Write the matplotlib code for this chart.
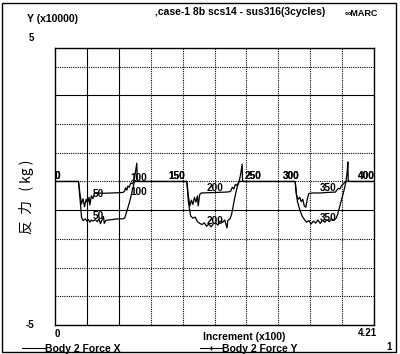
import numpy as np
import matplotlib.pyplot as plt
from matplotlib.lines import Line2D
from matplotlib.patches import Rectangle

# Body 2 force, increment vs force (x10000 kg)
inc_x = [0, 31, 33, 35, 37, 39, 41, 43, 45, 46, 48, 50, 52, 55, 65, 75, 85, 90, 92, 93,
         95, 96, 98, 100, 102, 104, 106, 108, 108.5, 110,
         174, 176, 178, 180, 182, 184, 186, 188, 189, 191, 193, 205, 215, 225, 230, 232,
         234, 236, 238, 240, 243, 245, 247, 247.5, 249,
         317, 319, 321, 323, 325, 327, 329, 331, 333, 335, 340, 350, 360, 370, 372, 374,
         376, 378, 380, 382, 384, 385.5, 386.5, 387, 389, 421]
force_x = [0, 0, -0.45, -0.78, -0.6, -0.88, -0.62, -0.75, -0.55, -0.82, -0.5, -0.6, -0.42,
           -0.4, -0.41, -0.4, -0.39, -0.38, -0.33, -0.22, -0.3, -0.16, -0.2, -0.05, -0.08,
           0.0, 0.3, 0.64, 0.03, 0.0,
           0, -0.5, -0.85, -0.65, -0.8, -0.55, -0.72, -0.5, -0.85, -0.45, -0.4, -0.39,
           -0.38, -0.37, -0.36, -0.33, -0.2, -0.26, -0.1, -0.14, 0.0, 0.25, 0.6, 0.03, 0,
           0, -0.5, -0.62, -0.55, -0.7, -0.62, -0.85, -0.9, -0.6, -0.42, -0.4, -0.4, -0.38,
           -0.37, -0.3, -0.24, -0.26, -0.15, -0.1, -0.04, 0.0, 0.3, 0.68, 0.03, 0, 0]

inc_y = [0, 31, 33, 35, 37, 40, 42, 44, 46, 48, 50, 53, 56, 58, 60, 62, 64, 65, 67, 70,
         75, 80, 85, 90, 92, 95, 98, 100, 103, 105,
         174, 176, 179, 182, 185, 188, 191, 194, 197, 200, 203, 206, 209, 212, 215, 218,
         221, 224, 227, 228, 231, 233, 235, 237, 239, 241, 243,
         317, 318, 320, 323, 326, 329, 332, 335, 338, 341, 344, 347, 350, 353, 356, 359,
         362, 365, 368, 371, 373, 376, 379, 382, 384, 421]
force_y = [0, 0, -0.6, -1.25, -1.36, -1.3, -1.38, -1.32, -1.42, -1.34, -1.38, -1.33, -1.4,
           -1.3, -1.47, -1.34, -1.22, -1.46, -1.36, -1.34, -1.33, -1.31, -1.3, -1.3, -1.27,
           -1.02, -0.75, -0.55, -0.2, 0.0,
           0, -0.7, -1.2, -1.28, -1.24, -1.4, -1.46, -1.5, -1.44, -1.56, -1.48, -1.58,
           -1.47, -1.44, -1.52, -1.38, -1.43, -1.34, -1.62, -1.36, -1.3, -1.15, -0.88,
           -0.6, -0.35, -0.15, 0.0,
           0, -0.35, -0.7, -0.98, -1.2, -1.32, -1.42, -1.36, -1.48, -1.38, -1.45, -1.34,
           -1.46, -1.35, -1.42, -1.33, -1.4, -1.3, -1.36, -1.28, -1.15, -0.85, -0.55,
           -0.25, 0.0, 0]

label_incs = [0, 50, 100, 150, 200, 250, 300, 350, 400]

fnt = 'Liberation Sans'

fig = plt.figure(figsize=(4.0, 3.54), dpi=100)
ax = fig.add_axes([0.1375, 0.0819, 0.7975, 0.7825])

ax.set_xlim(0, 421)
ax.set_ylim(-5, 4.65)

# grid, a few lines come out solid on the original
for k in range(1, 10):
    ls = '-' if k in (1, 2) else (0, (1, 1))
    ax.axvline(421 * k / 10, color='black', lw=0.8, ls=ls, zorder=1)
for yv in range(-4, 5):
    ls = '-' if yv in (-1, 3) else (0, (1, 1))
    ax.axhline(yv, color='black', lw=0.8, ls=ls, zorder=1)

ax.plot(inc_x, force_x, color='black', lw=0.9, zorder=3)
ax.plot(inc_y, force_y, color='black', lw=0.9, zorder=3)

# increment labels along the curves
for xs, ys in [(inc_x, force_x), (inc_y, force_y)]:
    for n in label_incs:
        v = np.interp(n, xs, ys)
        ax.text(n, v, str(n), fontsize=7.2, family=fnt, weight='bold',
                ha='left', va='bottom', zorder=4)

ax.set_xticks([])
ax.set_yticks([])
for s in ax.spines.values():
    s.set_linewidth(1.0)

ax.text(0, -0.015, '0', transform=ax.transAxes, ha='left', va='top',
        fontsize=7, family=fnt, weight='bold')
ax.text(1.01, -0.01, '4.21', transform=ax.transAxes, ha='right', va='top',
        fontsize=7, family=fnt, weight='bold')
ax.text(-0.065, 5, '5', transform=ax.get_yaxis_transform(), ha='right', va='center',
        fontsize=7, family=fnt, weight='bold')
ax.text(-0.065, -5, '-5', transform=ax.get_yaxis_transform(), ha='right', va='center',
        fontsize=7, family=fnt, weight='bold')

# header / footer texts
fig.text(0.068, 0.945, 'Y (x10000)', fontsize=7.5, family=fnt, weight='bold',
         ha='left', va='center')
fig.text(0.60, 0.965, ',case-1 8b scs14 - sus316(3cycles)', fontsize=7.5,
         family=fnt, weight='bold', ha='center', va='center')
fig.text(0.862, 0.963, '\u221eMARC', fontsize=6.5, family=fnt, weight='bold',
         ha='left', va='center')
fig.text(0.065, 0.445, '反  力   ( kg )', rotation=90, fontsize=10,
         family=['Noto Sans CJK JP', 'DejaVu Sans'], ha='center', va='center')
fig.text(0.61, 0.047, 'Increment (x100)', fontsize=7.5, family=fnt, weight='bold',
         ha='center', va='center')
fig.text(0.112, 0.015, 'Body 2 Force X', fontsize=7.5, family=fnt, weight='bold',
         ha='left', va='center')
fig.text(0.555, 0.015, 'Body 2 Force Y', fontsize=7.5, family=fnt, weight='bold',
         ha='left', va='center')
fig.text(0.972, 0.02, '1', fontsize=7, family=fnt, weight='bold', ha='center', va='center')

fig.add_artist(Line2D([0.055, 0.112], [0.017, 0.017], color='black', lw=0.8))
fig.add_artist(Line2D([0.5, 0.555], [0.017, 0.017], color='black', lw=0.8))
fig.add_artist(Line2D([0.5275], [0.017], color='black', marker='|', markersize=3))

fig.add_artist(Rectangle((0.006, 0.006), 0.984, 0.985, transform=fig.transFigure,
                         fill=False, edgecolor='black', lw=1.0))

fig.savefig('out.png', dpi=100)
